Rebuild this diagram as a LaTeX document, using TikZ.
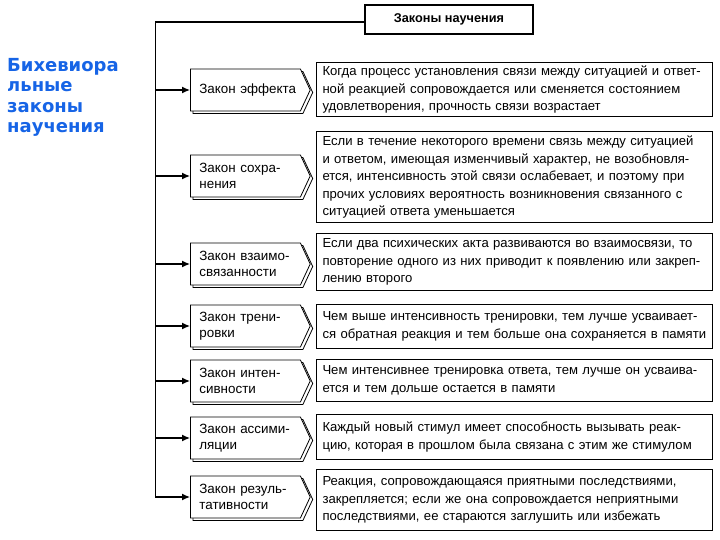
\documentclass[tikz,border=0pt]{standalone}
\usepackage{fontspec}
\setmainfont{Liberation Sans}
\newfontfamily\blufont{DejaVu Sans}
\usetikzlibrary{shapes.symbols,shadows,arrows.meta}
\definecolor{titleblue}{RGB}{22,100,230}
\newcommand{\jl}[1]{\makebox[\hsize][s]{#1}}
\newcommand{\tightsp}{\spaceskip=0.2em plus 1em minus 0.08em\relax}
\begin{document}
\begin{tikzpicture}[x=1pt,y=-1pt,
  lawbox/.style={signal, signal to=east, signal pointer angle=130, draw, line width=0.8pt, fill=white,
     minimum height=42pt, minimum width=110pt, text width=92pt, inner xsep=9pt, inner ysep=2pt,
     align=left, font=\fontsize{13.4}{15.5}\selectfont\tightsp,
     copy shadow={shadow xshift=2.5pt, shadow yshift=-2.5pt}, anchor=west},
  descbox/.style={draw, line width=1pt, anchor=north west, minimum width=396pt, text width=384pt,
     inner xsep=6pt, align=left, font=\fontsize{13.1}{17.5}\selectfont\tightsp},
  titlebox/.style={draw, line width=1.2pt, minimum width=168pt, minimum height=29pt, font=\fontsize{12.7}{14}\selectfont\bfseries},
  trunk/.style={line width=1pt},
  trunktop/.style={line width=1.6pt},
  arr/.style={line width=1.3pt, -{Latex[length=8pt,width=7pt]}}
]
\useasboundingbox (0,0) rectangle (720,540);

\node[anchor=north west, inner sep=0pt, text=titleblue, align=left,
  font=\blufont\bfseries\fontsize{18}{20.5}\selectfont] (side) at (7,58) {Бихевиора\\льные\\законы\\научения};

\node[titlebox] (top) at (449,19.5) {Законы научения};

\node[lawbox] (l1) at (190,90) {\mbox{Закон эффекта}};
\node[lawbox] (l2) at (190,176) {Закон сохра-\\нения};
\node[lawbox] (l3) at (190,264) {\mbox{Закон взаимо-}\\связанности};
\node[lawbox] (l4) at (190,326) {Закон трени-\\ровки};
\node[lawbox] (l5) at (190,381) {Закон интен-\\сивности};
\node[lawbox] (l6) at (190,438) {\mbox{Закон ассими-}\\ляции};
\node[lawbox] (l7) at (190,497) {\mbox{Закон резуль-}\\тативности};

\node[descbox, minimum height=51pt] (r1) at (316,62) {\jl{Когда процесс установления связи между ситуацией и ответ-}\\\jl{ной реакцией сопровождается или сменяется состоянием}\\удовлетворения, прочность связи возрастает};
\node[descbox, minimum height=91pt] (r2) at (316,131) {\jl{Если в течение некоторого времени связь между ситуацией}\\\jl{и ответом, имеющая изменчивый характер, не возобновля-}\\\jl{ется, интенсивность этой связи ослабевает, и поэтому при}\\\jl{прочих условиях вероятность возникновения связанного с}\\ситуацией ответа уменьшается};
\node[descbox, minimum height=57pt] (r3) at (316,233) {\jl{Если два психических акта развиваются во взаимосвязи, то}\\\jl{повторение одного из них приводит к появлению или закреп-}\\лению второго};
\node[descbox, minimum height=44pt] (r4) at (316,304) {\jl{Чем выше интенсивность тренировки, тем лучше усваивает-}\\\jl{ся обратная реакция и тем больше она сохраняется в памяти}};
\node[descbox, minimum height=42pt] (r5) at (316,359) {\jl{Чем интенсивнее тренировка ответа, тем лучше он усваива-}\\ется и тем дольше остается в памяти};
\node[descbox, minimum height=45pt] (r6) at (316,414) {\jl{Каждый новый стимул имеет способность вызывать реак-}\\\jl{цию, которая в прошлом была связана с этим же стимулом}};
\node[descbox, minimum height=61pt] (r7) at (316,469) {\jl{Реакция, сопровождающаяся приятными последствиями,}\\\jl{закрепляется; если же она сопровождается неприятными}\\последствиями, ее стараются заглушить или избежать};

\coordinate (c0) at (155,22);
\coordinate (j1) at (155,90);
\coordinate (j2) at (155,176);
\coordinate (j3) at (155,264);
\coordinate (j4) at (155,326);
\coordinate (j5) at (155,381);
\coordinate (j6) at (155,438);
\coordinate (j7) at (155,497);

\draw[trunktop] (top.west |- c0) -- (c0);
\draw[trunk] (c0) -- (j7);
\foreach \i in {1,...,7} { \draw[arr] (j\i) -- (l\i.west); }
\end{tikzpicture}
\end{document}
